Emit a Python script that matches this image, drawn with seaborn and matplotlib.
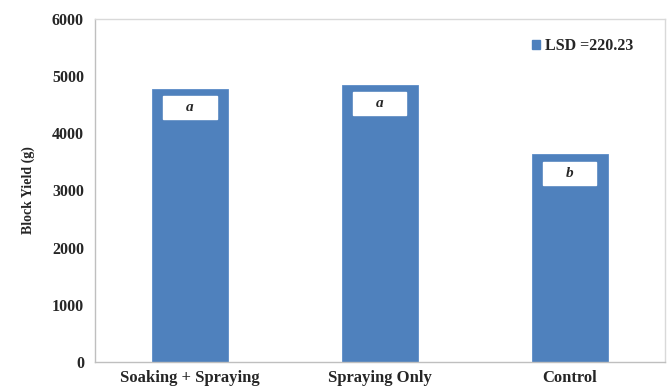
import matplotlib
matplotlib.use("Agg")
import matplotlib.pyplot as plt
import seaborn as sns
import pandas as pd
from matplotlib.patches import Rectangle, Patch

categories = ["Soaking + Spraying", "Spraying Only", "Control"]
yield_values = [4780, 4850, 3630]
letters = ["a", "a", "b"]
legend_label = "LSD =220.23"
yticks = [0, 1000, 2000, 3000, 4000, 5000, 6000]

df = pd.DataFrame({"Treatment": categories, "Yield": yield_values})

sns.set_theme(style="white")
plt.rcParams["font.family"] = ["Liberation Serif", "DejaVu Serif"]
plt.rcParams["font.weight"] = "bold"

fig = plt.figure(figsize=(6.71, 3.87), dpi=100)
ax = fig.add_axes([0.1416, 0.0646, 0.849, 0.8866])

bar_color = "#4F81BD"
sns.barplot(data=df, x="Treatment", y="Yield", color=bar_color, width=0.4,
            saturation=1, ax=ax)
for p in ax.patches:
    p.set_edgecolor("#5B8CC8")
    p.set_linewidth(0.6)

ax.set_xlim(-0.5, 2.5)
ax.set_ylim(0, 6000)
ax.set_yticks(yticks)
ax.set_yticklabels([str(t) for t in yticks], fontsize=11.5, fontweight="bold")
ax.set_xticks(range(len(categories)))
ax.set_xticklabels(categories, fontsize=12, fontweight="bold")
ax.set_xlabel("")
ax.set_ylabel("Block Yield (g)", fontsize=10, fontweight="bold", labelpad=12)

# minor ticks at category boundaries on x
ax.set_xticks([-0.5, 0.5, 1.5, 2.5], minor=True)
ax.tick_params(axis="x", which="major", length=0, pad=6)
ax.tick_params(axis="x", which="minor", length=4, color="#BFBFBF", direction="out")
ax.tick_params(axis="y", which="major", length=4, color="#BFBFBF", direction="out", pad=4)

for side in ["left", "bottom"]:
    ax.spines[side].set_color("#BFBFBF")
    ax.spines[side].set_linewidth(1.0)
for side in ["top", "right"]:
    ax.spines[side].set_color("#D9D9D9")
    ax.spines[side].set_linewidth(1.0)

# letter boxes inside bars
box_w = 0.28
gap = 130
box_h = 400
bars = ax.patches[:len(categories)]
for p, v, lt in zip(bars, yield_values, letters):
    cx = p.get_x() + p.get_width() / 2
    top = v - gap
    ax.add_patch(Rectangle((cx - box_w / 2, top - box_h), box_w, box_h,
                           facecolor="white", edgecolor="white", zorder=3))
    ax.text(cx, top - box_h / 2, lt, ha="center", va="center",
            fontsize=11, fontweight="bold", fontstyle="italic", zorder=4)

handle = Patch(facecolor=bar_color, edgecolor=bar_color)
leg = ax.legend([handle], [legend_label], loc="upper right", frameon=False,
                handlelength=0.5, handleheight=0.5, handletextpad=0.3,
                prop={"weight": "bold", "size": 11.5},
                bbox_to_anchor=(0.97, 0.985))

fig.savefig("out.png", dpi=100)
